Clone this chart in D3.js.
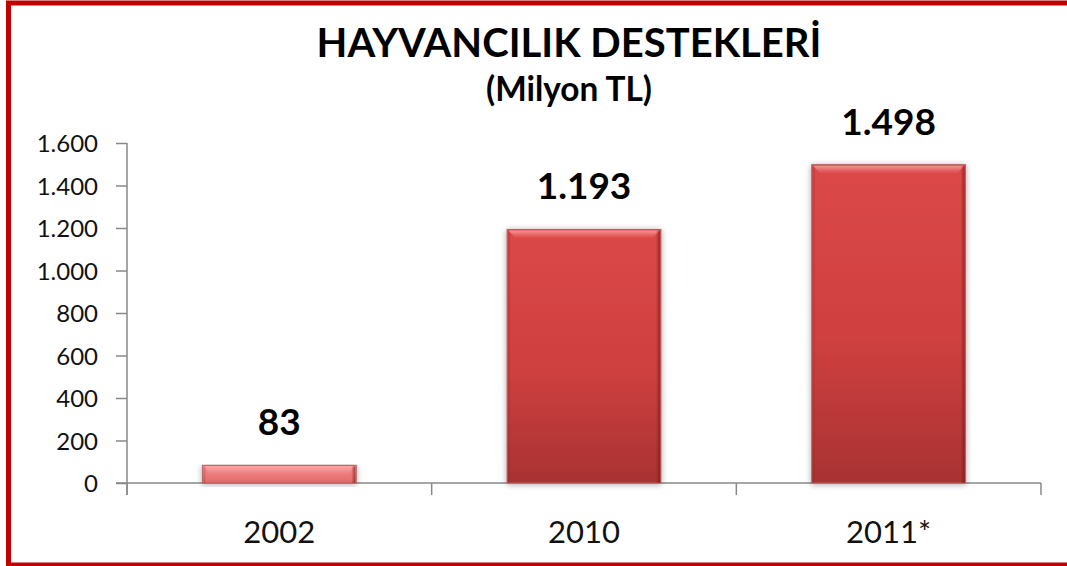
<!DOCTYPE html>
<html><head><meta charset="utf-8">
<script src="https://cdn.jsdelivr.net/npm/d3@7"></script>
<style>
html,body{margin:0;padding:0;background:#fff;}
svg{display:block;}
text{font-family:Lato,"Open Sans",sans-serif;}
</style></head>
<body>
<svg id="chart" width="1067" height="566"></svg>
<script>
const categories = ["2002", "2010", "2011*"];
const values = [83, 1193, 1498];
const valueLabels = ["83", "1.193", "1.498"];
const yTicks = [0, 200, 400, 600, 800, 1000, 1200, 1400, 1600];
const yTickLabels = ["0", "200", "400", "600", "800", "1.000", "1.200", "1.400", "1.600"];
const titleText = "HAYVANCILIK DESTEKLERİ";
const subtitleText = "(Milyon TL)";

const svg = d3.select("#chart");
const W = 1067, H = 566;
svg.append("rect").attr("width", W).attr("height", H).attr("fill", "#fff");

const x = d3.scaleBand().domain(categories).range([127, 1041]).paddingInner(0.495).paddingOuter(0.2475);
const y = d3.scaleLinear().domain([0, 1600]).range([483, 143]);

function fit(sel, target) {
  const w = sel.node().getComputedTextLength();
  const fs = parseFloat(sel.attr("font-size"));
  sel.attr("font-size", (fs * target / w).toFixed(2));
}

const defs = svg.append("defs");
const barStops = [
  [["0", "#f59090"], ["1", "#e46868"]],
  [["0", "#dc4848"], ["0.55", "#cf4040"], ["1", "#a93232"]],
  [["0", "#dc4848"], ["0.55", "#cf4040"], ["1", "#a93232"]]
];
barStops.forEach((stops, i) => {
  const g = defs.append("linearGradient").attr("id", "bg" + i).attr("x1", 0).attr("y1", 0).attr("x2", 0).attr("y2", 1);
  stops.forEach(s => g.append("stop").attr("offset", s[0]).attr("stop-color", s[1]));
});
const hl = defs.append("linearGradient").attr("id", "hl").attr("x1", 0).attr("y1", 0).attr("x2", 0).attr("y2", 1);
hl.append("stop").attr("offset", 0).attr("stop-color", "#ffb0b0").attr("stop-opacity", 0.75);
hl.append("stop").attr("offset", 1).attr("stop-color", "#ff9090").attr("stop-opacity", 0.0);
const rd = defs.append("linearGradient").attr("id", "rd").attr("x1", 0).attr("y1", 0).attr("x2", 1).attr("y2", 0);
rd.append("stop").attr("offset", 0).attr("stop-color", "#7a1a1a").attr("stop-opacity", 0.0);
rd.append("stop").attr("offset", 1).attr("stop-color", "#7a1a1a").attr("stop-opacity", 0.7);
const sh = defs.append("filter").attr("id", "shadow").attr("x", "-10%").attr("y", "-10%").attr("width", "120%").attr("height", "130%");
sh.append("feGaussianBlur").attr("in", "SourceAlpha").attr("stdDeviation", 3);
sh.append("feOffset").attr("dx", 0).attr("dy", 1).attr("result", "b");
sh.append("feComponentTransfer").append("feFuncA").attr("type", "linear").attr("slope", 0.35);
const mg = sh.append("feMerge");
mg.append("feMergeNode");
mg.append("feMergeNode").attr("in", "SourceGraphic");

// Y axis
const axisColor = "#888888";
const yAxis = d3.axisLeft(y).tickValues(yTicks).tickSize(11).tickPadding(18)
  .tickFormat((d, i) => yTickLabels[i]);
const ya = svg.append("g").attr("transform", "translate(127,0)").call(yAxis);
ya.select(".domain").attr("stroke", axisColor).attr("stroke-width", 1.5).attr("d", "M0,143V495");
ya.selectAll(".tick line").attr("stroke", axisColor).attr("stroke-width", 1.5);
ya.selectAll(".tick text").attr("fill", "#111").attr("font-size", 24).attr("font-family", "Lato").attr("dy", "0.36em");

// X axis
const xa = svg.append("g").attr("transform", "translate(0," + y(0) + ")");
xa.append("line").attr("x1", 116).attr("x2", 1041).attr("stroke", axisColor).attr("stroke-width", 1.5);
const bounds = [x.range()[0]].concat(categories.map(c => x(c) + x.bandwidth() + x.step() * x.paddingInner() / 2));
bounds[bounds.length - 1] = x.range()[1];
xa.selectAll("line.tk").data(bounds).enter().append("line").attr("class", "tk")
  .attr("x1", d => d).attr("x2", d => d).attr("y1", 0).attr("y2", 12)
  .attr("stroke", axisColor).attr("stroke-width", 1.5);
xa.selectAll("text.cat").data(categories).enter().append("text").attr("class", "cat")
  .attr("x", d => x(d) + x.bandwidth() / 2).attr("y", 60)
  .attr("text-anchor", "middle").attr("fill", "#111").attr("font-size", 31).text(d => d);

// Bars
const bars = svg.append("g");
categories.forEach((c, i) => {
  const x0 = x(c), bw = x.bandwidth(), y0 = y(values[i]), h = y(0) - y(values[i]);
  const g = bars.append("g");
  g.append("rect").attr("x", x0).attr("y", y0).attr("width", bw).attr("height", h)
    .attr("fill", "url(#bg" + i + ")").attr("stroke", "#b86060").attr("stroke-width", 1).attr("filter", "url(#shadow)");
  const bev = Math.min(8, h / 2);
  g.append("path").attr("d", `M${x0 + 1},${y0 + 1}H${x0 + bw - 1}L${x0 + bw - 1 - bev},${y0 + 1 + bev}H${x0 + 1 + bev}Z`)
    .attr("fill", "url(#hl)");
  g.append("rect").attr("x", x0 + bw - 5).attr("y", y0 + 1).attr("width", 4).attr("height", h - 1).attr("fill", "url(#rd)");
  g.append("rect").attr("x", x0 + 1).attr("y", y0 + 1).attr("width", 2).attr("height", h - 1).attr("fill", "#8a2a2a").attr("opacity", 0.25);
});

// Value labels
svg.selectAll("text.val").data(values).enter().append("text").attr("class", "val")
  .attr("x", (d, i) => x(categories[i]) + x.bandwidth() / 2)
  .attr("y", d => y(d) - 30)
  .attr("text-anchor", "middle").attr("font-weight", 700).attr("fill", "#000").attr("font-size", 37)
  .text((d, i) => valueLabels[i]);

// Titles
const t = svg.append("text").attr("x", 569).attr("y", 57).attr("text-anchor", "middle")
  .attr("font-weight", 700).attr("font-size", 42).attr("fill", "#000").text(titleText);
fit(t, 505);
const st = svg.append("text").attr("x", 569).attr("y", 101).attr("text-anchor", "middle")
  .attr("font-weight", 700).attr("font-size", 28).attr("fill", "#000").text(subtitleText);
fit(st, 166);

// Border
svg.append("rect").attr("x", 8.5).attr("y", 3).attr("width", 1075).attr("height", 562)
  .attr("fill", "none").attr("stroke", "#c00000").attr("stroke-width", 5);
</script>
</body></html>
